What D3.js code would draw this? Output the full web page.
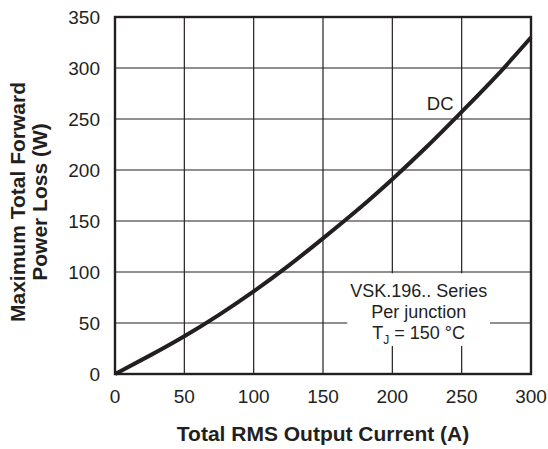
<!DOCTYPE html>
<html>
<head>
<meta charset="utf-8">
<script src="https://cdn.jsdelivr.net/npm/d3@7"></script>
<style>
  body { margin: 0; background: #fff; }
  text { font-family: "Liberation Sans", Arial, sans-serif; fill: #231f20; }
</style>
</head>
<body>
<svg id="chart"></svg>
<script>
var currentA = [0, 25, 50, 75, 100, 125, 150, 175, 200, 225, 250, 275, 300];
var powerW   = [0, 18, 37, 58, 81, 106, 133, 161, 191, 223, 257, 292, 330];
var xTicks = [0, 50, 100, 150, 200, 250, 300];
var yTicks = [0, 50, 100, 150, 200, 250, 300, 350];
var noteLines = ["VSK.196.. Series", "Per junction"];

var margin = {top: 17, right: 17, bottom: 75, left: 115};
var W = 548, H = 449;
var visWidth = W - margin.left - margin.right;
var visHeight = H - margin.top - margin.bottom;

var svg = d3.select("#chart").attr("width", W).attr("height", H);
var g = svg.append("g")
    .attr("transform", "translate(" + margin.left + "," + margin.top + ")");

var x = d3.scaleLinear().domain([0, 300]).range([0, visWidth]);
var y = d3.scaleLinear().domain([0, 350]).range([visHeight, 0]);

// grid
g.selectAll(".vgrid").data(xTicks).enter().append("line")
    .attr("x1", d => x(d)).attr("x2", d => x(d))
    .attr("y1", 0).attr("y2", visHeight)
    .attr("stroke", "#231f20").attr("stroke-width", 1.2);
g.selectAll(".hgrid").data(yTicks).enter().append("line")
    .attr("y1", d => y(d)).attr("y2", d => y(d))
    .attr("x1", 0).attr("x2", visWidth)
    .attr("stroke", "#231f20").attr("stroke-width", 1.2);

// white box behind the note
var bx0 = x(167.5), bx1 = x(270.5), by0 = y(98.8), by1 = y(27.5);
g.append("rect")
    .attr("x", bx0).attr("y", by0)
    .attr("width", bx1 - bx0).attr("height", by1 - by0)
    .attr("fill", "#fff");

// frame
g.append("rect")
    .attr("width", visWidth).attr("height", visHeight)
    .attr("fill", "none").attr("stroke", "#231f20").attr("stroke-width", 2.4);

// curve
var line = d3.line()
    .x((d, i) => x(currentA[i]))
    .y(d => y(d))
    .curve(d3.curveNatural);
g.append("path")
    .datum(powerW)
    .attr("d", line)
    .attr("fill", "none")
    .attr("stroke", "#231f20")
    .attr("stroke-width", 4);

// tick labels
g.selectAll(".xl").data(xTicks).enter().append("text")
    .attr("x", d => x(d)).attr("y", visHeight + 29)
    .attr("text-anchor", "middle").attr("font-size", 19)
    .text(d => d);
g.selectAll(".yl").data(yTicks).enter().append("text")
    .attr("x", -15).attr("y", d => y(d) + 7)
    .attr("text-anchor", "end").attr("font-size", 19)
    .text(d => d);

// DC label
g.append("text")
    .attr("x", x(234.5)).attr("y", y(258.5))
    .attr("text-anchor", "middle").attr("font-size", 18.5)
    .text("DC");

// note
var cx = (bx0 + bx1) / 2;
g.selectAll(".note").data(noteLines).enter().append("text")
    .attr("x", cx).attr("y", (d, i) => by0 + 24 + i * 21)
    .attr("text-anchor", "middle").attr("font-size", 18)
    .text(d => d);
var tj = g.append("text")
    .attr("x", cx).attr("y", by0 + 66)
    .attr("text-anchor", "middle").attr("font-size", 18);
tj.append("tspan").text("T");
tj.append("tspan").attr("font-size", 12).attr("dy", 5).text("J");
tj.append("tspan").attr("dy", -5).text(" = 150 °C");

// axis titles
svg.append("text")
    .attr("x", margin.left + visWidth / 2).attr("y", 441)
    .attr("text-anchor", "middle").attr("font-size", 21).attr("font-weight", "bold")
    .text("Total RMS Output Current (A)");
var yt = svg.append("text")
    .attr("transform", "translate(25,202) rotate(-90)")
    .attr("text-anchor", "middle").attr("font-size", 21).attr("font-weight", "bold");
yt.append("tspan").attr("x", 0).attr("y", 0).text("Maximum Total Forward");
yt.append("tspan").attr("x", 0).attr("y", 22).text("Power Loss (W)");
</script>
</body>
</html>
